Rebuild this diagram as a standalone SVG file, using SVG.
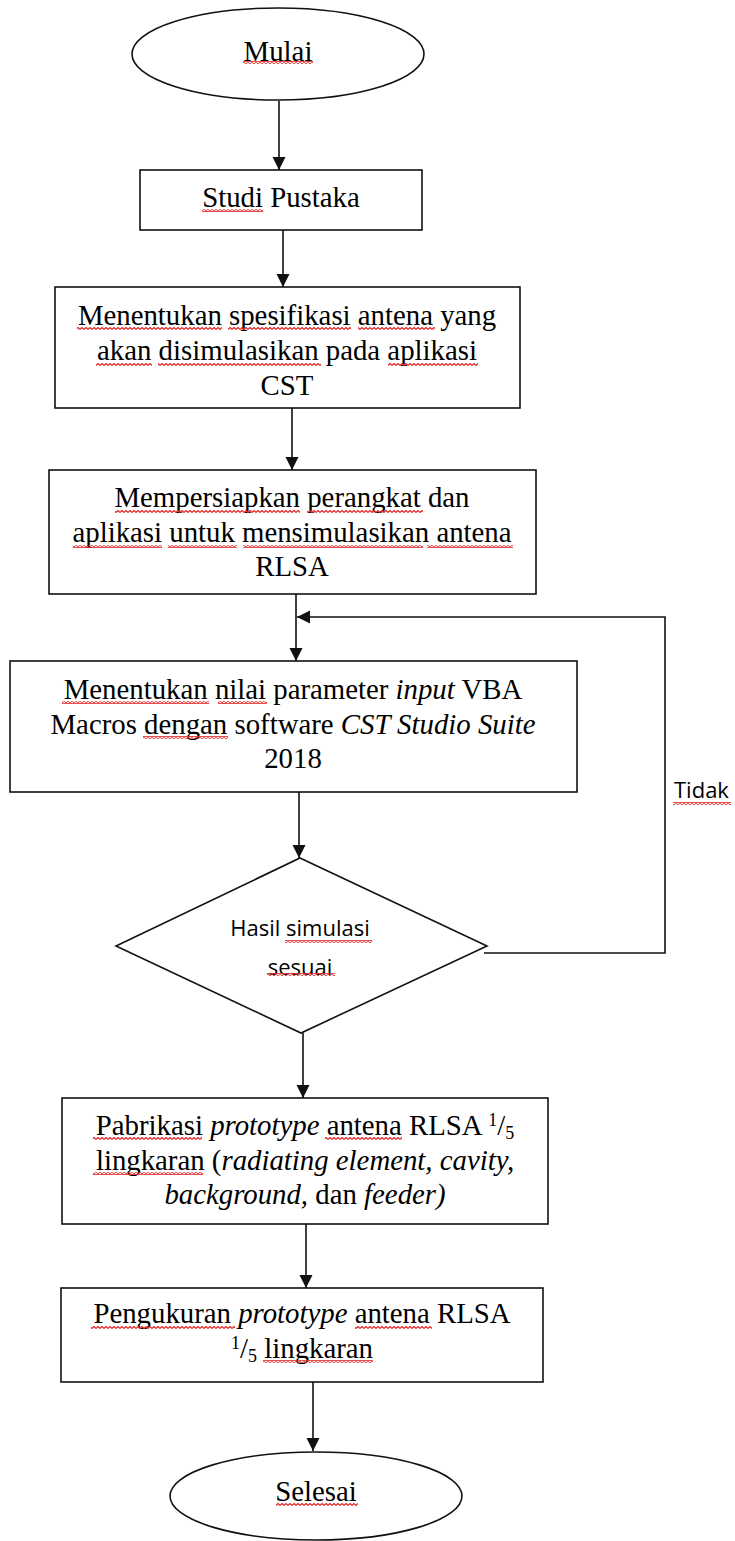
<svg xmlns="http://www.w3.org/2000/svg" width="735" height="1541" viewBox="0 0 735 1541">
<style>
.shape{fill:#fff;stroke:#111;stroke-width:1.6}
.conn{fill:none;stroke:#111;stroke-width:1.6}
.t{font-family:"Liberation Serif","Times New Roman",serif;font-size:28.8px;fill:#000;text-anchor:middle}
.s{font-family:"Open Sans","Noto Sans",sans-serif;font-size:22px;fill:#000}
.i{font-style:italic}
.sm{font-size:18px}
.sq{fill:url(#squiggle)}
</style>
<defs>
<marker id="arrow" markerUnits="userSpaceOnUse" markerWidth="14" markerHeight="14" viewBox="0 0 14 14" refX="13" refY="7" orient="auto">
<path d="M0,0.5 L13,7 L0,13.5 Z" fill="#111"/>
</marker>
<pattern id="squiggle" patternUnits="userSpaceOnUse" x="0" y="0" width="4" height="3">
<polyline points="0,2.5 2,0.5 4,2.5" fill="none" stroke="#e53030" stroke-width="1.3"/>
</pattern>
</defs>
<rect width="735" height="1541" fill="#fff"/>

<g id="connectors">
<line class="conn" x1="279" y1="101" x2="279" y2="170" marker-end="url(#arrow)"/>
<line class="conn" x1="283" y1="230" x2="283" y2="287" marker-end="url(#arrow)"/>
<line class="conn" x1="292" y1="408" x2="292" y2="470" marker-end="url(#arrow)"/>
<line class="conn" x1="296" y1="594" x2="296" y2="661" marker-end="url(#arrow)"/>
<line class="conn" x1="299" y1="792" x2="299" y2="858" marker-end="url(#arrow)"/>
<polyline class="conn" points="484,953 665,953 665,617 297,617" marker-end="url(#arrow)"/>
<line class="conn" x1="303" y1="1033" x2="303" y2="1098" marker-end="url(#arrow)"/>
<line class="conn" x1="306" y1="1224" x2="306" y2="1288" marker-end="url(#arrow)"/>
<line class="conn" x1="313" y1="1382" x2="313" y2="1451" marker-end="url(#arrow)"/>
<text class="s" x="674" y="798">Tidak</text>
<rect class="sq" x="673" y="802" width="58" height="3"/>
</g>

<g id="mulai">
<ellipse class="shape" cx="278" cy="54" rx="146" ry="46"/>
<text class="t" x="278" y="61">Mulai</text>
<rect class="sq" x="243" y="61" width="70" height="3"/>
</g>

<g id="studi-pustaka">
<rect class="shape" x="140" y="170" width="282" height="60"/>
<text class="t" x="281" y="207">Studi Pustaka</text>
<rect class="sq" x="202" y="209" width="61" height="3"/>
</g>

<g id="spesifikasi">
<rect class="shape" x="55" y="287" width="465" height="121"/>
<text class="t" x="287" y="325">Menentukan spesifikasi antena yang</text>
<text class="t" x="287" y="360">akan disimulasikan pada aplikasi</text>
<text class="t" x="287" y="395">CST</text>
<rect class="sq" x="77" y="327" width="145" height="3"/>
<rect class="sq" x="228" y="327" width="123" height="3"/>
<rect class="sq" x="358" y="327" width="77" height="3"/>
<rect class="sq" x="96" y="363" width="56" height="3"/>
<rect class="sq" x="158" y="363" width="163" height="3"/>
<rect class="sq" x="388" y="363" width="90" height="3"/>
</g>

<g id="persiapan">
<rect class="shape" x="49" y="470" width="487" height="124"/>
<text class="t" x="292" y="507">Mempersiapkan perangkat dan</text>
<text class="t" x="292" y="542">aplikasi untuk mensimulasikan antena</text>
<text class="t" x="292" y="576">RLSA</text>
<rect class="sq" x="115" y="510" width="185" height="3"/>
<rect class="sq" x="307" y="510" width="116" height="3"/>
<rect class="sq" x="73" y="545" width="89" height="3"/>
<rect class="sq" x="168" y="545" width="69" height="3"/>
<rect class="sq" x="243" y="545" width="180" height="3"/>
<rect class="sq" x="427" y="545" width="86" height="3"/>
</g>

<g id="parameter">
<rect class="shape" x="10" y="661" width="567" height="131"/>
<text class="t" x="293" y="699">Menentukan nilai parameter <tspan class="i">input</tspan> VBA</text>
<text class="t" x="293" y="734">Macros dengan software <tspan class="i">CST Studio Suite</tspan></text>
<text class="t" x="293" y="768">2018</text>
<rect class="sq" x="62" y="701" width="147" height="3"/>
<rect class="sq" x="218" y="701" width="49" height="3"/>
<rect class="sq" x="143" y="736" width="85" height="3"/>
</g>

<g id="keputusan">
<polygon class="shape" points="300,858 487,946 301,1033 116,946"/>
<text class="s" x="300" y="936" text-anchor="middle">Hasil simulasi</text>
<text class="s" x="300" y="975" text-anchor="middle">sesuai</text>
<rect class="sq" x="285" y="940" width="87" height="3"/>
<rect class="sq" x="267" y="973" width="68" height="3"/>
</g>

<g id="pabrikasi">
<rect class="shape" x="62" y="1098" width="486" height="126"/>
<text class="t" x="305" y="1135">Pabrikasi <tspan class="i">prototype</tspan> antena RLSA <tspan class="sm" dy="-9">1</tspan><tspan dy="9">/</tspan><tspan class="sm" dy="4">5</tspan></text>
<text class="t" x="305" y="1170">lingkaran (<tspan class="i">radiating element, cavity,</tspan></text>
<text class="t" x="305" y="1204"><tspan class="i">background,</tspan> dan <tspan class="i">feeder)</tspan></text>
<rect class="sq" x="93" y="1137" width="109" height="3"/>
<rect class="sq" x="325" y="1137" width="77" height="3"/>
<rect class="sq" x="93" y="1172" width="110" height="3"/>
</g>

<g id="pengukuran">
<rect class="shape" x="61" y="1288" width="482" height="94"/>
<text class="t" x="302" y="1323">Pengukuran <tspan class="i">prototype</tspan> antena RLSA</text>
<text class="t" x="302" y="1358"><tspan class="sm" dy="-9">1</tspan><tspan dy="9">/</tspan><tspan class="sm" dy="4">5</tspan><tspan dy="-4"> lingkaran</tspan></text>
<rect class="sq" x="91" y="1326" width="144" height="3"/>
<rect class="sq" x="355" y="1326" width="77" height="3"/>
<rect class="sq" x="263" y="1360" width="110" height="3"/>
</g>

<g id="selesai">
<ellipse class="shape" cx="316" cy="1496" rx="146" ry="44"/>
<text class="t" x="316" y="1501">Selesai</text>
<rect class="sq" x="276" y="1503" width="82" height="3"/>
</g>
</svg>
